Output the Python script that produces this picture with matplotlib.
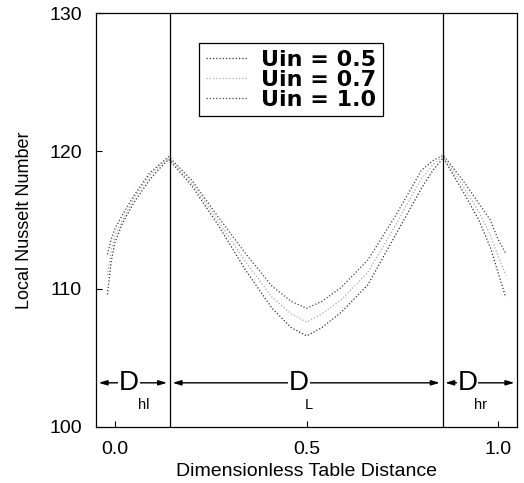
import numpy as np
import matplotlib.pyplot as plt

# table distance (dimensionless)
x = [-0.02, -0.01, 0.0, 0.02, 0.05, 0.09, 0.115, 0.14, 0.2, 0.27, 0.34, 0.41, 0.46, 0.5,
     0.54, 0.59, 0.66, 0.73, 0.8, 0.83, 0.857, 0.91, 0.95, 0.98, 1.0, 1.02]

# local Nusselt number
nu_05 = [109.6, 112.0, 113.4, 114.8, 116.3, 117.9, 118.7, 119.4, 117.5, 114.6, 111.4, 108.6,
         107.2, 106.6, 107.2, 108.3, 110.3, 113.8, 117.3, 118.6, 119.5, 117.0, 115.0, 113.0,
         111.2, 109.4]
nu_07 = [111.0, 112.8, 113.9, 115.0, 116.6, 118.2, 118.9, 119.5, 117.7, 114.9, 112.0, 109.4,
         108.2, 107.6, 108.2, 109.2, 111.2, 114.5, 118.0, 119.0, 119.6, 117.4, 115.6, 113.9,
         112.4, 111.0]
nu_10 = [112.5, 113.6, 114.4, 115.4, 116.8, 118.4, 119.0, 119.6, 117.9, 115.2, 112.6, 110.2,
         109.1, 108.6, 109.1, 110.1, 112.1, 115.2, 118.6, 119.3, 119.7, 117.8, 116.2, 115.0,
         113.6, 112.6]

x_left = 0.143
x_right = 0.855
y_arrow = 103.2

plt.rcParams['font.family'] = ['Liberation Sans', 'DejaVu Sans']

fig = plt.figure(figsize=(5.24, 4.83), dpi=100)
ax = fig.add_axes([0.183, 0.116, 0.804, 0.857])

dots = (0, (1, 1.6))
ax.plot(x, nu_05, color='#333333', lw=0.9, ls=dots, label='Uin = 0.5')
ax.plot(x, nu_07, color='#aaaaaa', lw=0.9, ls=dots, label='Uin = 0.7')
ax.plot(x, nu_10, color='#444444', lw=0.9, ls=dots, label='Uin = 1.0')

ax.axvline(x_left, color='black', lw=0.9)
ax.axvline(x_right, color='black', lw=0.9)

bounds = [-0.05, x_left, x_right, 1.05]
for a, b in zip(bounds[:-1], bounds[1:]):
    ax.annotate('', xy=(a, y_arrow), xytext=(b, y_arrow),
                arrowprops=dict(arrowstyle='<|-|>,head_length=0.5,head_width=0.15',
                                color='black', lw=1.0, shrinkA=2, shrinkB=2))

labels = [('hl', 0.037, 0.075), ('L', 0.48, 0.505), ('hr', 0.92, 0.955)]
for sub, xd, xs in labels:
    ax.text(xd, y_arrow, 'D', fontsize=20, ha='center', va='center',
            bbox=dict(facecolor='white', edgecolor='none', pad=0.5))
    ax.text(xs, 101.6, sub, fontsize=10.5, ha='center', va='center')

ax.set_xlim(-0.05, 1.05)
ax.set_ylim(100, 130)
ax.set_xticks([0.0, 0.5, 1.0])
ax.set_xticklabels(['0.0', '0.5', '1.0'])
ax.set_yticks([100, 110, 120, 130])
ax.tick_params(direction='in', length=4, width=0.8, labelsize=14)
ax.tick_params(axis='y', pad=10)
ax.tick_params(axis='x', pad=10)
for s in ax.spines.values():
    s.set_linewidth(0.9)

ax.set_xlabel('Dimensionless Table Distance', fontsize=14, labelpad=4)
ax.set_ylabel('Local Nusselt Number', fontsize=13, labelpad=12)

leg = ax.legend(loc='upper left', bbox_to_anchor=(0.245, 0.928), fancybox=False,
                edgecolor='black', framealpha=1, handlelength=1.9, handletextpad=0.6,
                borderpad=0.3, labelspacing=0.0, borderaxespad=0,
                prop=dict(family='DejaVu Sans', size=16, weight='bold'))
leg.get_frame().set_linewidth(0.9)

fig.savefig('out.png', dpi=100)
